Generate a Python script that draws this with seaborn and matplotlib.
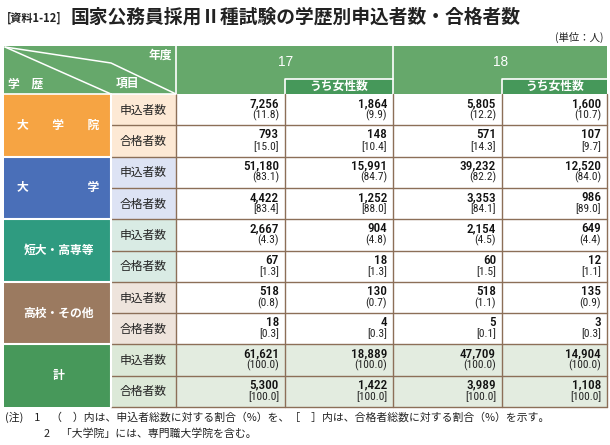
import matplotlib
matplotlib.use("Agg")
import matplotlib.pyplot as plt
import seaborn as sns
from matplotlib.patches import Rectangle
from matplotlib import font_manager as fm
import matplotlib.patheffects as pe
import os

sns.set_theme(style="white")
JP = "Noto Sans CJK JP"
plt.rcParams['font.family'] = [JP, 'DejaVu Sans']


def find_font(keys, want):
    for key in keys:
        for f in fm.fontManager.ttflist:
            b = os.path.basename(f.fname).lower()
            if 'italic' in b or 'oblique' in b:
                continue
            if key.lower() in b and want(b):
                return fm.FontProperties(fname=f.fname)
    return None


cond_keys = ["RobotoCondensed", "Roboto_Condensed", "LiberationSansNarrow", "DejaVuSansCondensed", "Condensed", "Narrow"]
plain = lambda b: not any(w in b for w in ('bold', 'medium', 'light', 'thin', 'black', 'semi'))
NUMM = find_font(cond_keys, lambda b: 'medium' in b)
NUMR = find_font(cond_keys, plain) or fm.FontProperties(family='Liberation Sans')
num_fx = []
if NUMM is None:
    NUMM = NUMR
    num_fx = [pe.withStroke(linewidth=0.5, foreground='#111')]

# ---------------- data ----------------
title = "国家公務員採用Ⅱ種試験の学歴別申込者数・合格者数"
title_tag = "[資料1-12]"
unit = "(単位：人)"
years = ["17", "18"]
sub_header = "うち女性数"
categories = ["大　　学　　院", "大　　　　　学", "短大・高専等", "高校・その他", "計"]
items = ["申込者数", "合格者数"]
# rows: (cat, item) in order; columns: 17 total, 17 female, 18 total, 18 female
total_17 = [7256, 793, 51180, 4422, 2667, 67, 518, 18, 61621, 5300]
female_17 = [1864, 148, 15991, 1252, 904, 18, 130, 4, 18889, 1422]
total_18 = [5805, 571, 39232, 3353, 2154, 60, 518, 5, 47709, 3989]
female_18 = [1600, 107, 12520, 986, 649, 12, 135, 3, 14904, 1108]
pct_total_17 = [11.8, 15.0, 83.1, 83.4, 4.3, 1.3, 0.8, 0.3, 100.0, 100.0]
pct_female_17 = [9.9, 10.4, 84.7, 88.0, 4.8, 1.3, 0.7, 0.3, 100.0, 100.0]
pct_total_18 = [12.2, 14.3, 82.2, 84.1, 4.5, 1.5, 1.1, 0.1, 100.0, 100.0]
pct_female_18 = [10.7, 9.7, 84.0, 89.0, 4.4, 1.1, 0.9, 0.3, 100.0, 100.0]
notes = ["(注)　1　（　）内は、申込者総数に対する割合（%）を、［　］内は、合格者総数に対する割合（%）を示す。",
         "2　「大学院」には、専門職大学院を含む。"]

cat_colors = ["#f6a443", "#4a6fb8", "#2f9b80", "#9b7a60", "#47985a"]
item_bg = ["#fde9d5", "#dde3f4", "#d9ebe4", "#eee4dc", "#dce9d8"]
HEAD = "#66a86b"
SUB = "#46985a"
GRID = "#8c6f58"

# ---------------- layout ----------------
fig = plt.figure(figsize=(6.1, 4.45), dpi=100)
ax = fig.add_axes([0, 0, 1, 1])
ax.set_xlim(0, 610)
ax.set_ylim(445, 0)
ax.axis('off')

x0, x1, x2 = 4, 111, 176
col_edges = [176, 285, 393, 502, 607]
top, head_bot, bot = 46, 94, 407
rh = (bot - head_bot) / 10.0

ax.text(7, 18, title_tag, fontsize=8, fontweight='bold', color='#222', va='center', ha='left')
ax.text(71, 17, title, fontsize=13.5, fontweight='bold', color='#222', va='center', ha='left')
ax.text(604, 37, unit, fontsize=7.5, color='#222', va='center', ha='right')

# header
ax.add_patch(Rectangle((x0, top), 607 - x0, head_bot - top, color=HEAD, lw=0))
for i in range(2):
    a, b = col_edges[2 * i], col_edges[2 * i + 2]
    ax.text((a + b) / 2 + 1, 62, years[i], fontsize=9.8, color='white', ha='center', va='center',
            family='Liberation Sans')
    sa, sb = col_edges[2 * i + 1], b
    ax.add_patch(Rectangle((sa, 78.5), sb - sa, head_bot - 78.5, color=SUB, lw=0))
    ax.plot([sa, sa, sb], [head_bot, 78.5, 78.5], color='white', lw=1.2)
    ax.text((sa + sb) / 2, 86.5, sub_header, fontsize=8.5, fontweight='bold', color='white', ha='center', va='center')
for xv in [176, 393]:
    ax.plot([xv, xv], [top, head_bot], color='white', lw=1.2)
ax.plot([x0 + 1, x1, x2], [top + 1, 63, head_bot], color='white', lw=1.1)
ax.plot([x0 + 1, x1], [top + 1, head_bot], color='white', lw=1.1)
ax.text(160, 55, "年度", fontsize=8.5, fontweight='bold', color='white', ha='center', va='center')
ax.text(128, 83, "項目", fontsize=8.5, fontweight='bold', color='white', ha='center', va='center')
ax.text(8, 84, "学　歴", fontsize=8.5, fontweight='bold', color='white', ha='left', va='center')

cols = [(total_17, pct_total_17), (female_17, pct_female_17), (total_18, pct_total_18), (female_18, pct_female_18)]

for c in range(5):
    yt = head_bot + 2 * c * rh
    ax.add_patch(Rectangle((x0, yt), x1 - x0, 2 * rh, color=cat_colors[c], lw=0))
    ax.text((x0 + x1) / 2 + 1, yt + rh, categories[c], fontsize=8.5, fontweight='bold', color='white',
            ha='center', va='center')
    for k in range(2):
        r = 2 * c + k
        y = head_bot + r * rh
        ax.add_patch(Rectangle((x1, y), x2 - x1, rh, color=item_bg[c], lw=0))
        if c == 4:
            ax.add_patch(Rectangle((x2, y), 607 - x2, rh, color="#e3ece0", lw=0))
        ax.text((x1 + x2) / 2, y + rh / 2 + 0.5, items[k], fontsize=8.5, color='#222', ha='center', va='center')
        for j, (vals, pcts) in enumerate(cols):
            xr = col_edges[j + 1] - 6
            ax.text(xr, y + 9.5, f"{vals[r]:,}", fontsize=9.5, color='#111', ha='right', va='center',
                    fontproperties=NUMM, path_effects=num_fx)
            p = f"{pcts[r]:.1f}"
            lab = f"({p})" if k == 0 else f"[{p}]"
            ax.text(xr, y + 21, lab, fontsize=8.2, color='#222', ha='right', va='center',
                    fontproperties=NUMR)

# grid lines
for r in range(1, 10):
    y = head_bot + r * rh
    ax.plot([x1, 607], [y, y], color=GRID, lw=1)
ax.plot([x1, 607], [bot, bot], color=GRID, lw=1)
for xv in col_edges:
    ax.plot([xv, xv], [head_bot, bot], color=GRID, lw=1)
for c in range(1, 5):
    y = head_bot + 2 * c * rh
    ax.plot([x0, x1], [y, y], color='white', lw=1.5)
ax.plot([x1, x1], [head_bot, bot], color='white', lw=1.5)
ax.plot([x0, x2], [head_bot, head_bot], color='white', lw=1.2)

ax.text(5, 417, notes[0], fontsize=7.8, color='#222', ha='left', va='center')
ax.text(44, 434, notes[1], fontsize=7.8, color='#222', ha='left', va='center')

fig.savefig("out.png", dpi=100)
